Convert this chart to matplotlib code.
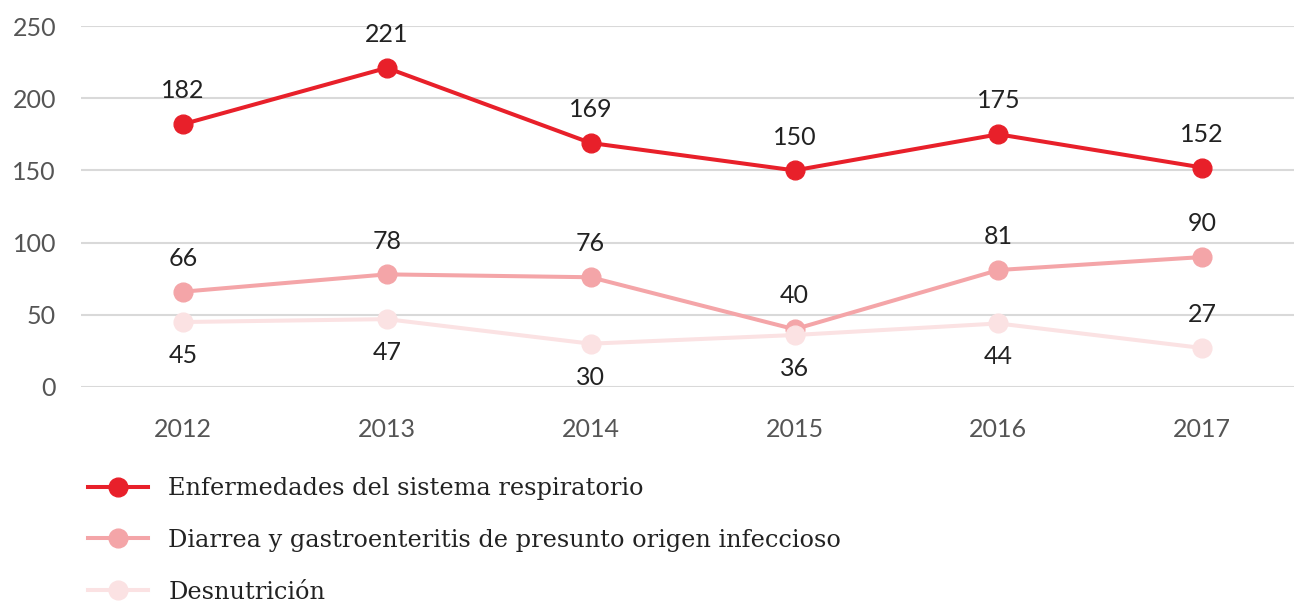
import numpy as np
import matplotlib.pyplot as plt

years = ["2012", "2013", "2014", "2015", "2016", "2017"]
respiratorio = [182, 221, 169, 150, 175, 152]
diarrea = [66, 78, 76, 40, 81, 90]
desnutricion = [45, 47, 30, 36, 44, 27]

names = [
    "Enfermedades del sistema respiratorio",
    "Diarrea y gastroenteritis de presunto origen infeccioso",
    "Desnutrición",
]
colors = ["#E8202A", "#F4A5A8", "#FBE2E3"]
# label above (+1) or below (-1) each point
label_side = [
    [1, 1, 1, 1, 1, 1],
    [1, 1, 1, 1, 1, 1],
    [-1, -1, -1, -1, -1, 1],
]

plt.rcParams['font.family'] = ['Lato', 'DejaVu Sans']

fig = plt.figure(figsize=(12.94, 6.04), dpi=100)
ax = fig.add_axes([81 / 1294, 217 / 604, 1 - 81 / 1294, 361 / 604])

x = np.arange(len(years))
series = [respiratorio, diarrea, desnutricion]
handles = []
for vals, col, name, sides in zip(series, colors, names, label_side):
    h, = ax.plot(x, vals, color=col, lw=2.9, marker='o', markersize=13.5,
                 label=name, zorder=3, clip_on=False)
    handles.append(h)
    for xi, v, s in zip(x, vals, sides):
        ax.annotate(str(v), (xi, v), xytext=(0, 24 * s), textcoords='offset points',
                    ha='center', va='center', fontsize=18, color='#222222')

ax.set_xlim(-0.5, 5.45)
ax.set_ylim(0, 250)
ax.set_yticks([0, 50, 100, 150, 200, 250])
ax.set_xticks(x)
ax.set_xticklabels(years)
ax.grid(axis='y', color='#d9d9d9', lw=1.5)
ax.set_axisbelow(True)
for sp in ax.spines.values():
    sp.set_visible(False)
ax.tick_params(length=0, labelsize=18, colors='#555555')
ax.tick_params(axis='y', pad=18)
ax.tick_params(axis='x', pad=22)

fig.legend(handles=handles, labels=names, loc='upper left',
           bbox_to_anchor=(88 / 1294, 1 - 477 / 604), frameon=False,
           borderaxespad=0, borderpad=0,
           handlelength=2.5, handletextpad=0.85, labelspacing=1.2,
           prop={'family': 'DejaVu Serif', 'size': 17.3}, labelcolor='#222222')

fig.savefig('out.png', dpi=100)
